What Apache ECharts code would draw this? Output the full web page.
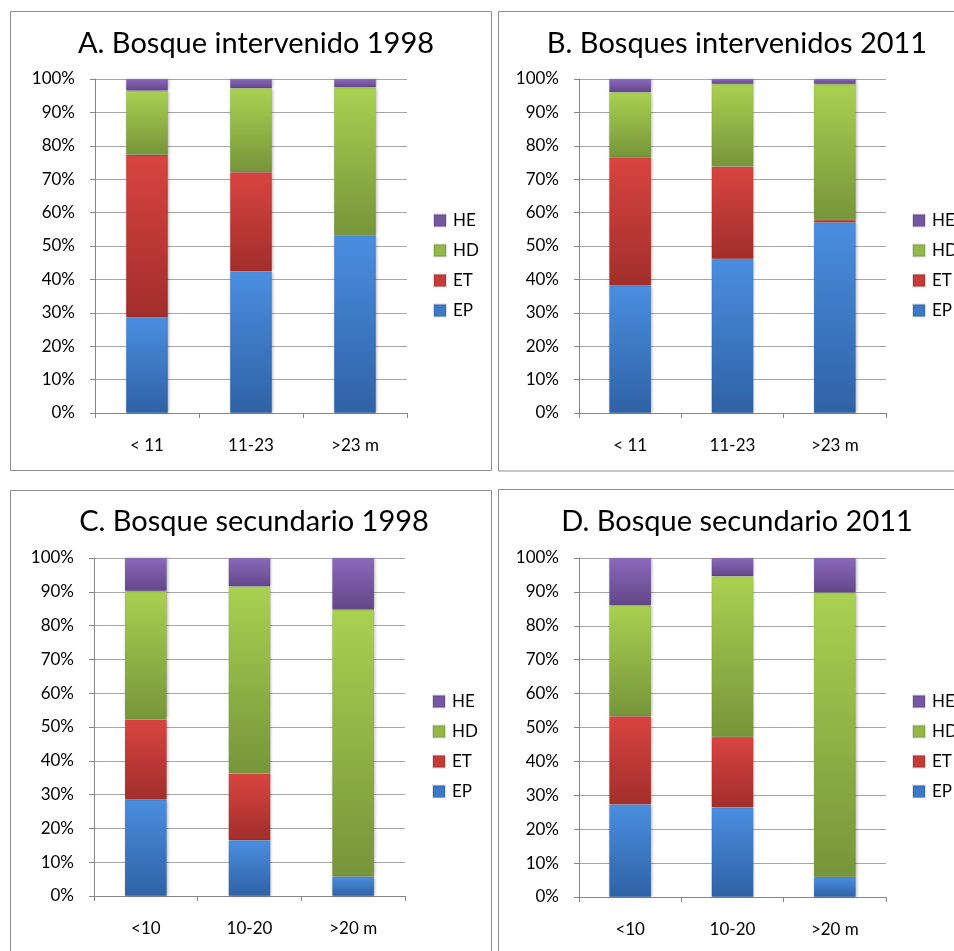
<!DOCTYPE html>
<html>
<head>
<meta charset="utf-8">
<script src="https://cdn.jsdelivr.net/npm/echarts@6/dist/echarts.min.js"></script>
<style>
  html, body { margin: 0; padding: 0; background: #fff; }
  #chart { width: 954px; height: 951px; }
</style>
</head>
<body>
<div id="chart"></div>
<script>
// categories
var catsTop = ["< 11", "11-23", ">23 m"];
var catsBottom = ["<10", "10-20", ">20 m"];
var legendOrder = ["HE", "HD", "ET", "EP"];
var yTicks = [0, 10, 20, 30, 40, 50, 60, 70, 80, 90, 100];

// A. Bosque intervenido 1998 (%)
var aEP = [28.7, 42.4, 53.1];
var aET = [48.6, 29.7, 0];
var aHD = [19.2, 25.1, 44.4];
var aHE = [3.5, 2.8, 2.5];

// B. Bosques intervenidos 2011 (%)
var bEP = [38.1, 46.1, 57.0];
var bET = [38.5, 27.7, 0.8];
var bHD = [19.4, 24.7, 40.7];
var bHE = [4.0, 1.5, 1.5];

// C. Bosque secundario 1998 (%)
var cEP = [28.5, 16.5, 5.8];
var cET = [23.7, 19.7, 0];
var cHD = [38.0, 55.4, 78.9];
var cHE = [9.8, 8.4, 15.3];

// D. Bosque secundario 2011 (%)
var dEP = [27.3, 26.4, 5.9];
var dET = [26.0, 20.8, 0];
var dHD = [32.7, 47.4, 83.9];
var dHE = [14.0, 5.4, 10.2];

var font = "Lato, 'Open Sans', sans-serif";

function grad(top, bottom) {
    return new echarts.graphic.LinearGradient(0, 0, 0, 1, [
        { offset: 0, color: top },
        { offset: 1, color: bottom }
    ]);
}

var colors = {
    EP: grad("#4a8ee0", "#2f62a6"),
    ET: grad("#d9443f", "#a22e2b"),
    HD: grad("#a9d150", "#76953a"),
    HE: grad("#8a69bb", "#634689")
};
var legendColors = { EP: "#3c78c6", ET: "#c43b37", HD: "#92b847", HE: "#7656a2" };

var panels = [
    { title: "A. Bosque intervenido 1998", cats: catsTop, data: { EP: aEP, ET: aET, HD: aHD, HE: aHE },
      grid: { left: 95, top: 79, width: 312, height: 334 }, tx: 251, ty: 24, lx: 433, ly: 212 },
    { title: "B. Bosques intervenidos 2011", cats: catsTop, data: { EP: bEP, ET: bET, HD: bHD, HE: bHE },
      grid: { left: 579, top: 79, width: 307, height: 334 }, tx: 732, ty: 24, lx: 912, ly: 212 },
    { title: "C. Bosque secundario 1998", cats: catsBottom, data: { EP: cEP, ET: cET, HD: cHD, HE: cHE },
      grid: { left: 94, top: 558, width: 311, height: 338 }, tx: 249, ty: 502, lx: 432, ly: 693 },
    { title: "D. Bosque secundario 2011", cats: catsBottom, data: { EP: dEP, ET: dET, HD: dHD, HE: dHE },
      grid: { left: 579, top: 558, width: 307, height: 339 }, tx: 732, ty: 502, lx: 912, ly: 693 }
];

var option = {
    animation: false,
    backgroundColor: "#fff",
    title: [], legend: [], grid: [], xAxis: [], yAxis: [], series: [],
    graphic: [
        { type: "rect", shape: { x: 10.5, y: 11.5, width: 481, height: 459 }, style: { fill: "none", stroke: "#8c8c8c", lineWidth: 1 } },
        { type: "rect", shape: { x: 498.5, y: 11.5, width: 470, height: 459.5 }, style: { fill: "none", stroke: "#8c8c8c", lineWidth: 1 } },
        { type: "rect", shape: { x: 10.5, y: 490.5, width: 481, height: 480 }, style: { fill: "none", stroke: "#8c8c8c", lineWidth: 1 } },
        { type: "rect", shape: { x: 498.5, y: 489.5, width: 470, height: 480 }, style: { fill: "none", stroke: "#8c8c8c", lineWidth: 1 } }
    ]
};

panels.forEach(function (p, i) {
    option.title.push({
        text: p.title, left: p.tx, top: p.ty, textAlign: "center",
        textStyle: { fontFamily: font, fontSize: 29, fontWeight: "normal", color: "#000" }
    });
    option.legend.push({
        orient: "vertical", left: p.lx, top: p.ly, padding: 0,
        itemWidth: 12, itemHeight: 12, itemGap: 13,
        data: legendOrder.map(function (n) {
            return { name: n, icon: "rect", itemStyle: { color: legendColors[n] } };
        }),
        selectedMode: false,
        textStyle: { fontFamily: font, fontSize: 17, color: "#000", padding: [0, 0, 0, 2] }
    });
    option.grid.push(p.grid);
    option.xAxis.push({
        type: "category", gridIndex: i, data: p.cats,
        axisLine: { lineStyle: { color: "#868686" } },
        axisTick: { show: true, length: 5, alignWithLabel: false, lineStyle: { color: "#868686" } },
        axisLabel: { margin: 24, fontFamily: font, fontSize: 17, color: "#000" }
    });
    option.yAxis.push({
        type: "value", gridIndex: i, min: yTicks[0], max: yTicks[yTicks.length - 1], interval: 10,
        axisLine: { show: true, lineStyle: { color: "#868686" } },
        axisTick: { show: true, length: 5, lineStyle: { color: "#868686" } },
        splitLine: { lineStyle: { color: "#a6a6a6" } },
        axisLabel: { margin: 20, fontFamily: font, fontSize: 17, color: "#000", formatter: "{value}%" }
    });
    ["EP", "ET", "HD", "HE"].forEach(function (n) {
        option.series.push({
            name: n, type: "bar", stack: "s" + i, xAxisIndex: i, yAxisIndex: i,
            barWidth: 42, data: p.data[n],
            itemStyle: { color: colors[n], borderColor: "rgba(0,0,0,0.12)", borderWidth: 0.5,
                         shadowColor: "rgba(0,0,0,0.25)", shadowBlur: 3, shadowOffsetX: 1 }
        });
    });
});

var chart = echarts.init(document.getElementById("chart"));
chart.setOption(option);
</script>
</body>
</html>
